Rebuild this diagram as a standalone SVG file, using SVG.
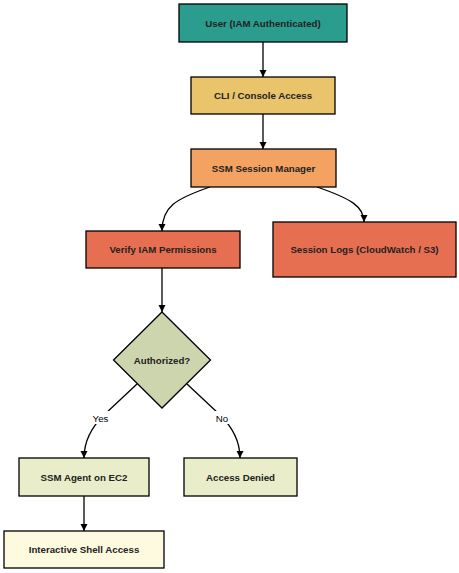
<svg xmlns="http://www.w3.org/2000/svg" width="459" height="573" viewBox="0 0 459 573">
<defs>
<style>
.n{stroke:#000;stroke-width:1.3}
.t{font-family:"Liberation Sans",Arial,sans-serif;font-size:9.7px;font-weight:bold;fill:#222;text-anchor:middle}
.l{font-family:"Liberation Sans",Arial,sans-serif;font-size:9.7px;fill:#000;text-anchor:middle}
.e{fill:none;stroke:#000;stroke-width:1.3;marker-end:url(#a)}
</style>
<marker id="a" markerWidth="8" markerHeight="8" refX="7" refY="4" orient="auto" markerUnits="userSpaceOnUse">
<path d="M0,0.5 L7,4 L0,7.5 Z" fill="#000"/>
</marker>
</defs>
<rect width="459" height="573" fill="#fff"/>
<g id="connectors">
<path class="e" d="M263,42 L263,77"/>
<path class="e" d="M263,114 L263,149"/>
<path class="e" d="M210,187 C175,199 162,207 162,231"/>
<path class="e" d="M317,187 C352,199 364,207 364,222"/>
<path class="e" d="M162,268 L162,312"/>
<path class="e" d="M137,384 L105,414 Q84,434 84,458"/>
<path class="e" d="M187,384 L219,414 Q240,434 240,458"/>
<path class="e" d="M84,496 L84,531"/>
<g id="label-yes"><rect x="90" y="411" width="21" height="13" fill="#fff"/><text class="l" x="100.5" y="421.5">Yes</text></g>
<g id="label-no"><rect x="213" y="411" width="18" height="13" fill="#fff"/><text class="l" x="222" y="421.5">No</text></g>
</g>
<g id="user"><rect class="n" x="179" y="4" width="168" height="38" fill="#2a9d8f"/><text class="t" x="263" y="26.5">User (IAM Authenticated)</text></g>
<g id="cli"><rect class="n" x="191" y="77" width="144" height="37" fill="#e9c46a"/><text class="t" x="263" y="99">CLI / Console Access</text></g>
<g id="ssm"><rect class="n" x="191" y="149" width="145" height="38" fill="#f4a261"/><text class="t" x="263.5" y="171.5">SSM Session Manager</text></g>
<g id="verify"><rect class="n" x="86" y="231" width="154" height="37" fill="#e76f51"/><text class="t" x="163" y="253">Verify IAM Permissions</text></g>
<g id="logs"><rect class="n" x="273" y="222" width="183" height="55" fill="#e76f51"/><text class="t" x="364.5" y="253">Session Logs (CloudWatch / S3)</text></g>
<g id="authorized"><path class="n" d="M162,312 L210.5,360 L162,408 L113.5,360 Z" fill="#ccd5ae"/><text class="t" x="162" y="363.5">Authorized?</text></g>
<g id="agent"><rect class="n" x="19" y="458" width="130" height="38" fill="#e9edc9"/><text class="t" x="84" y="480.5">SSM Agent on EC2</text></g>
<g id="denied"><rect class="n" x="184" y="458" width="113" height="38" fill="#e9edc9"/><text class="t" x="240.5" y="480.5">Access Denied</text></g>
<g id="shell"><rect class="n" x="4" y="531" width="160" height="37" fill="#fefae0"/><text class="t" x="84" y="553">Interactive Shell Access</text></g>
</svg>
